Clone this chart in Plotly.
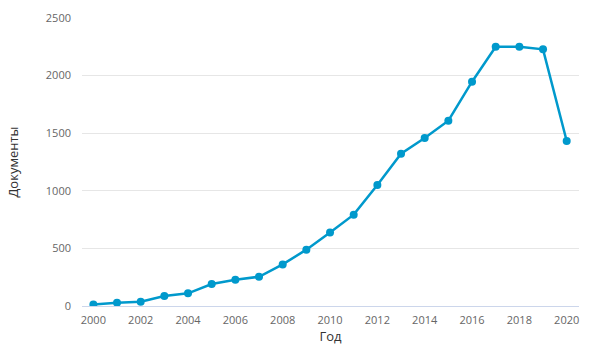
import plotly.graph_objects as go

years = list(range(2000, 2021))
docs = [14, 29, 37, 87, 110, 191, 228, 254, 361, 489, 639, 793, 1050, 1322, 1458, 1609, 1947, 2251, 2251, 2228, 1432]
x_ticks = list(range(2000, 2021, 2))
y_ticks = [0, 500, 1000, 1500, 2000, 2500]

fig = go.Figure(go.Scatter(
    x=years, y=docs, mode="lines+markers",
    line=dict(color="#0099cc", width=2.5),
    marker=dict(color="#0099cc", size=8),
))

fig.update_layout(
    width=599, height=348,
    margin=dict(l=82, r=20, t=18, b=42),
    paper_bgcolor="white", plot_bgcolor="white",
    showlegend=False,
    font=dict(family="Open Sans, sans-serif", color="#666666", size=11),
    xaxis=dict(
        range=[1999.52, 2020.52], tickvals=x_ticks, showgrid=False,
        showline=True, linecolor="#ccd6eb", linewidth=1, zeroline=False,
        ticklabelstandoff=4, automargin=False,
        title=dict(text="Год", font=dict(size=13, color="#333333"), standoff=1),
    ),
    yaxis=dict(
        range=[0, 2500], tickvals=y_ticks, showgrid=True, gridcolor="#e6e6e6",
        zeroline=False, showline=False, ticklabelstandoff=10, automargin=False,
        title=dict(text="Документы", font=dict(size=13, color="#333333"), standoff=24),
    ),
)

fig.write_html("out.html")
